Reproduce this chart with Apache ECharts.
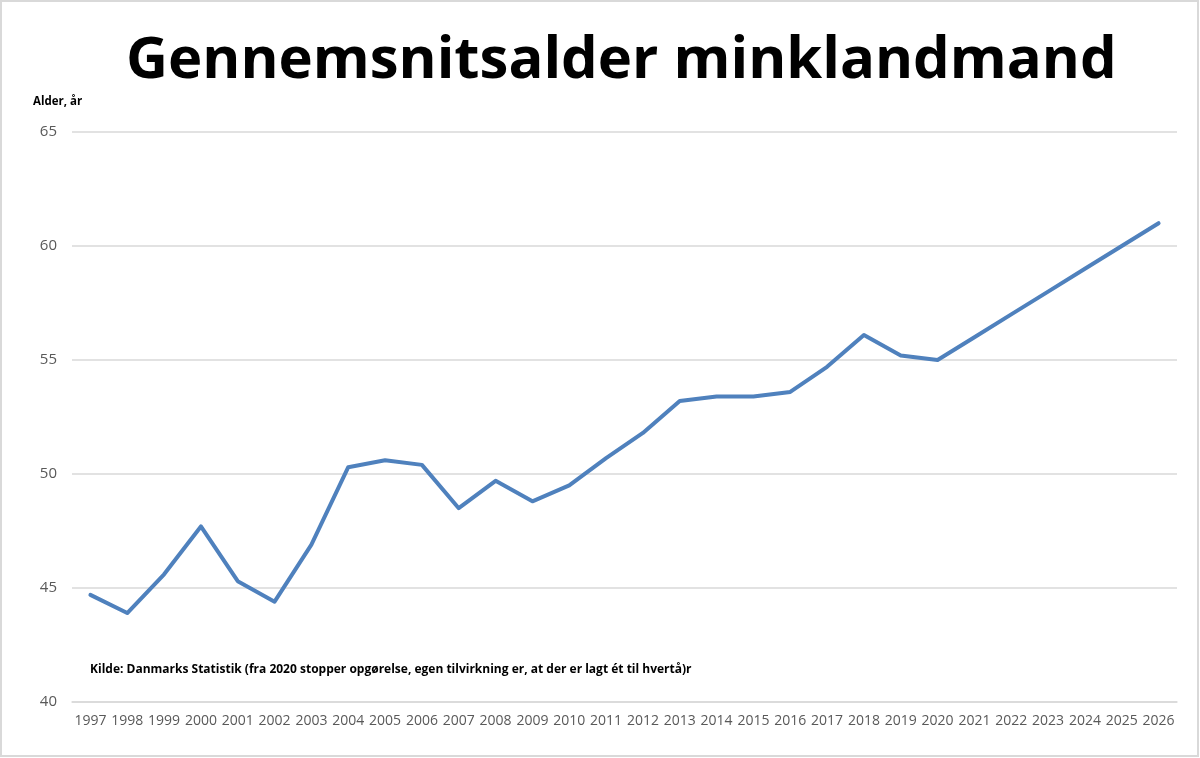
<!DOCTYPE html>
<html>
<head>
<meta charset="utf-8">
<title>Gennemsnitsalder minklandmand</title>
<script src="https://cdn.jsdelivr.net/npm/echarts@6/dist/echarts.min.js"></script>
<style>
    html, body { margin: 0; padding: 0; background: #fff; }
    #chart { width: 1200px; height: 758px; }
</style>
</head>
<body>
<div id="chart"></div>
<script>
// årstal (kategorier)
const years = ['1997', '1998', '1999', '2000', '2001', '2002', '2003', '2004', '2005', '2006',
    '2007', '2008', '2009', '2010', '2011', '2012', '2013', '2014', '2015', '2016',
    '2017', '2018', '2019', '2020', '2021', '2022', '2023', '2024', '2025', '2026'];

// gennemsnitsalder
const avgAge = [44.7, 43.9, 45.6, 47.7, 45.3, 44.4, 46.9, 50.3, 50.6, 50.4,
    48.5, 49.7, 48.8, 49.5, 50.7, 51.8, 53.2, 53.4, 53.4, 53.6,
    54.7, 56.1, 55.2, 55.0, 56.0, 57.0, 58.0, 59.0, 60.0, 61.0];

const yMin = 40;
const yMax = 65;
const yStep = 5;

const titleText = 'Gennemsnitsalder minklandmand';
const yAxisTitle = 'Alder, år';
const sourceText = 'Kilde: Danmarks Statistik (fra 2020 stopper opgørelse, egen tilvirkning er, at der er lagt ét til hvertå)r';

const font = '"Open Sans", "Noto Sans", sans-serif';

let myChart = echarts.init(document.getElementById('chart'));

let option = {
    backgroundColor: '#fff',
    animation: false,
    title: {
        text: titleText,
        left: 121,
        top: 27,
        textStyle: {
            fontFamily: font,
            fontWeight: 'bold',
            fontSize: 58,
            color: '#000'
        }
    },
    grid: {
        left: 72,
        right: 23,
        top: 132,
        bottom: 56
    },
    xAxis: {
        type: 'category',
        data: years,
        boundaryGap: true,
        axisLine: { show: true, lineStyle: { color: '#d9d9d9', width: 1.5 } },
        axisTick: { show: false },
        axisLabel: {
            interval: 0,
            margin: 12,
            color: '#595959',
            fontFamily: font,
            fontSize: 14
        }
    },
    yAxis: {
        type: 'value',
        min: yMin,
        max: yMax,
        interval: yStep,
        axisLine: { show: false },
        axisTick: { show: false },
        splitLine: { lineStyle: { color: '#d9d9d9', width: 1.5 } },
        axisLabel: {
            margin: 15,
            color: '#595959',
            fontFamily: font,
            fontSize: 15
        }
    },
    series: [{
        name: 'Gennemsnitsalder',
        type: 'line',
        data: avgAge,
        symbol: 'none',
        lineStyle: { color: '#4f81bd', width: 4, cap: 'round', join: 'round' }
    }],
    graphic: [
        {
            type: 'rect',
            shape: { x: 1, y: 1, width: 1197, height: 755 },
            style: { fill: 'none', stroke: '#d9d9d9', lineWidth: 2 },
            silent: true
        },
        {
            type: 'text',
            left: 33,
            top: 96,
            style: {
                text: yAxisTitle,
                fontFamily: font,
                fontWeight: 'bold',
                fontSize: 11.5,
                fill: '#000'
            }
        },
        {
            type: 'text',
            left: 90,
            top: 664,
            style: {
                text: sourceText,
                fontFamily: font,
                fontWeight: 'bold',
                fontSize: 12,
                fill: '#000'
            }
        }
    ]
};

myChart.setOption(option);
</script>
</body>
</html>
